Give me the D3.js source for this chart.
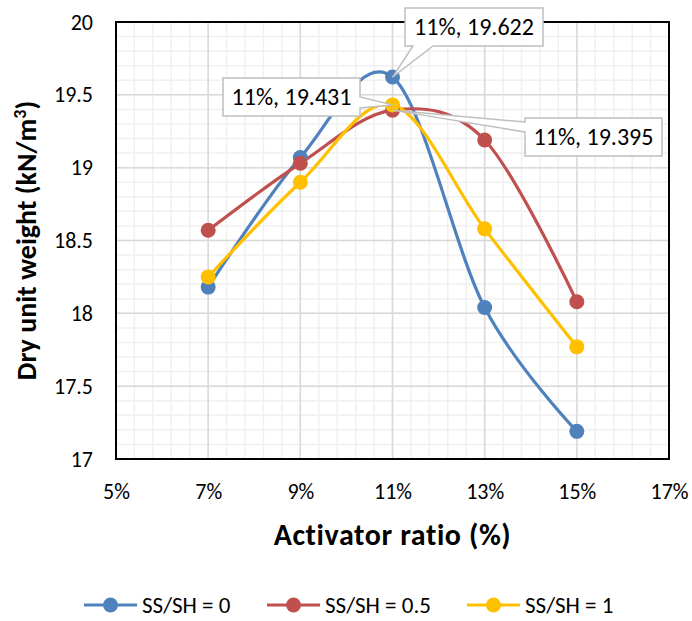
<!DOCTYPE html>
<html>
<head>
<meta charset="utf-8">
<script src="https://cdn.jsdelivr.net/npm/d3@7"></script>
<style>
  body { margin: 0; background: #fff; }
  svg text { font-family: Carlito, Lato, "Open Sans", sans-serif; }
</style>
</head>
<body>
<div class="viz"></div>
<script>
const width = 692;
const height = 621;

// data
const ratios = [7, 9, 11, 13, 15];
const ssSh0 = [18.18, 19.07, 19.622, 18.04, 17.19];
const ssSh05 = [18.57, 19.03, 19.395, 19.19, 18.08];
const ssSh1 = [18.25, 18.90, 19.431, 18.58, 17.77];
const seriesNames = ["SS/SH = 0", "SS/SH = 0.5", "SS/SH = 1"];
const seriesColors = ["#4f81bd", "#c0504d", "#ffc000"];
const xTicks = [5, 7, 9, 11, 13, 15, 17];
const yTicks = [17, 17.5, 18, 18.5, 19, 19.5, 20];

const margin = { left: 116, right: 23, top: 22, bottom: 162 };

const svg = d3.select(".viz")
    .append("svg")
    .attr("width", width)
    .attr("height", height);

const x = d3.scaleLinear().domain([5, 17]).range([margin.left, width - margin.right]);
const y = d3.scaleLinear().domain([17, 20]).range([height - margin.bottom, margin.top]);

// minor grid
const minorX = d3.range(5, 17.001, 0.4);
const minorY = d3.range(17, 20.001, 0.1);
svg.append("g").selectAll("line")
    .data(minorX)
    .enter().append("line")
    .attr("x1", d => x(d)).attr("x2", d => x(d))
    .attr("y1", y(17)).attr("y2", y(20))
    .style("stroke", "#f0f0f0").style("stroke-width", 1.5);
svg.append("g").selectAll("line")
    .data(minorY)
    .enter().append("line")
    .attr("x1", x(5)).attr("x2", x(17))
    .attr("y1", d => y(d)).attr("y2", d => y(d))
    .style("stroke", "#f0f0f0").style("stroke-width", 1.5);

// major grid
svg.append("g").selectAll("line")
    .data(xTicks)
    .enter().append("line")
    .attr("x1", d => x(d)).attr("x2", d => x(d))
    .attr("y1", y(17)).attr("y2", y(20))
    .style("stroke", "#d9d9d9").style("stroke-width", 1.5);
svg.append("g").selectAll("line")
    .data(yTicks)
    .enter().append("line")
    .attr("x1", x(5)).attr("x2", x(17))
    .attr("y1", d => y(d)).attr("y2", d => y(d))
    .style("stroke", "#d9d9d9").style("stroke-width", 1.5);

// plot border
svg.append("rect")
    .attr("x", x(5)).attr("y", y(20))
    .attr("width", x(17) - x(5)).attr("height", y(17) - y(20))
    .style("fill", "none").style("stroke", "#000").style("stroke-width", 2);

// axes
const xAxis = svg.append("g")
    .attr("transform", `translate(0,${y(17)})`)
    .call(d3.axisBottom(x).tickValues(xTicks).tickSize(0).tickPadding(24).tickFormat(d => d + "%"));
const yAxis = svg.append("g")
    .attr("transform", `translate(${x(5)},0)`)
    .call(d3.axisLeft(y).tickValues(yTicks).tickSize(0).tickPadding(23).tickFormat(d => d));
[xAxis, yAxis].forEach(a => {
    a.select(".domain").remove();
    a.selectAll("text").style("font-size", "22px").style("fill", "#000")
        .style("font-family", "Carlito, Lato, sans-serif");
});

// axis titles
svg.append("text")
    .attr("x", (x(5) + x(17)) / 2)
    .attr("y", 545)
    .attr("text-anchor", "middle")
    .style("font-size", "30px").style("font-weight", "bold")
    .style("letter-spacing", "0.6px")
    .text("Activator ratio (%)");

const yTitle = svg.append("text")
    .attr("transform", `translate(36,${(y(17) + y(20)) / 2}) rotate(-90)`)
    .attr("text-anchor", "middle")
    .style("font-size", "28px").style("font-weight", "bold");
yTitle.append("tspan").text("Dry unit weight (kN/m");
yTitle.append("tspan").attr("dy", -10).style("font-size", "18px").text("3");
yTitle.append("tspan").attr("dy", 10).text(")");

// series
const allSeries = [ssSh0, ssSh05, ssSh1];
const line = d3.line()
    .x((d, i) => x(ratios[i]))
    .y(d => y(d))
    .curve(d3.curveCardinal.tension(0));

allSeries.forEach((vals, s) => {
    svg.append("path")
        .datum(vals)
        .attr("d", line)
        .style("fill", "none")
        .style("stroke", seriesColors[s])
        .style("stroke-width", 3.2);
});
allSeries.forEach((vals, s) => {
    svg.append("g").selectAll("circle")
        .data(vals)
        .enter().append("circle")
        .attr("cx", (d, i) => x(ratios[i]))
        .attr("cy", d => y(d))
        .attr("r", 7.5)
        .style("fill", seriesColors[s]);
});

// callouts for the 11% values
function callout(bx, by, bw, bh, side, a, b, tx, ty, label) {
    // side: "bottom", "left" or "right"; a,b positions along that edge
    let p;
    if (side === "bottom") {
        p = `M${bx},${by}H${bx + bw}V${by + bh}H${bx + b}L${tx},${ty}L${bx + a},${by + bh}H${bx}Z`;
    } else if (side === "right") {
        p = `M${bx},${by}H${bx + bw}V${by + a}L${tx},${ty}L${bx + bw},${by + b}V${by + bh}H${bx}Z`;
    } else {
        p = `M${bx},${by}H${bx + bw}V${by + bh}H${bx}V${by + b}L${tx},${ty}L${bx},${by + a}Z`;
    }
    svg.append("path").attr("d", p)
        .style("fill", "#fff").style("stroke", "#bfbfbf").style("stroke-width", 1.5);
    svg.append("text")
        .attr("x", bx + bw / 2).attr("y", by + bh / 2)
        .attr("dy", "0.35em")
        .attr("text-anchor", "middle")
        .style("font-size", "24px").style("fill", "#000")
        .text(label);
}
const i11 = ratios.indexOf(11);
callout(405, 8, 138, 38, "bottom", 8, 28, x(11), y(ssSh0[i11]), `11%, ${ssSh0[i11]}`);
callout(223, 78, 137, 38, "right", 19, 30, x(11), y(ssSh1[i11]), `11%, ${ssSh1[i11]}`);
callout(525, 118, 137, 38, "left", 4, 14, x(11), y(ssSh05[i11]), `11%, ${ssSh05[i11]}`);

// legend
const legendX = [84, 267, 467];
const legend = svg.append("g");
seriesNames.forEach((name, s) => {
    const g = legend.append("g").attr("transform", `translate(${legendX[s]},605)`);
    g.append("line").attr("x1", 0).attr("x2", 53).attr("y1", 0).attr("y2", 0)
        .style("stroke", seriesColors[s]).style("stroke-width", 3.2);
    g.append("circle").attr("cx", 26.5).attr("cy", 0).attr("r", 7.5).style("fill", seriesColors[s]);
    g.append("text").attr("x", 58).attr("y", 0).attr("dy", "0.35em")
        .style("font-size", "23px").style("fill", "#000").text(name);
});
</script>
</body>
</html>
